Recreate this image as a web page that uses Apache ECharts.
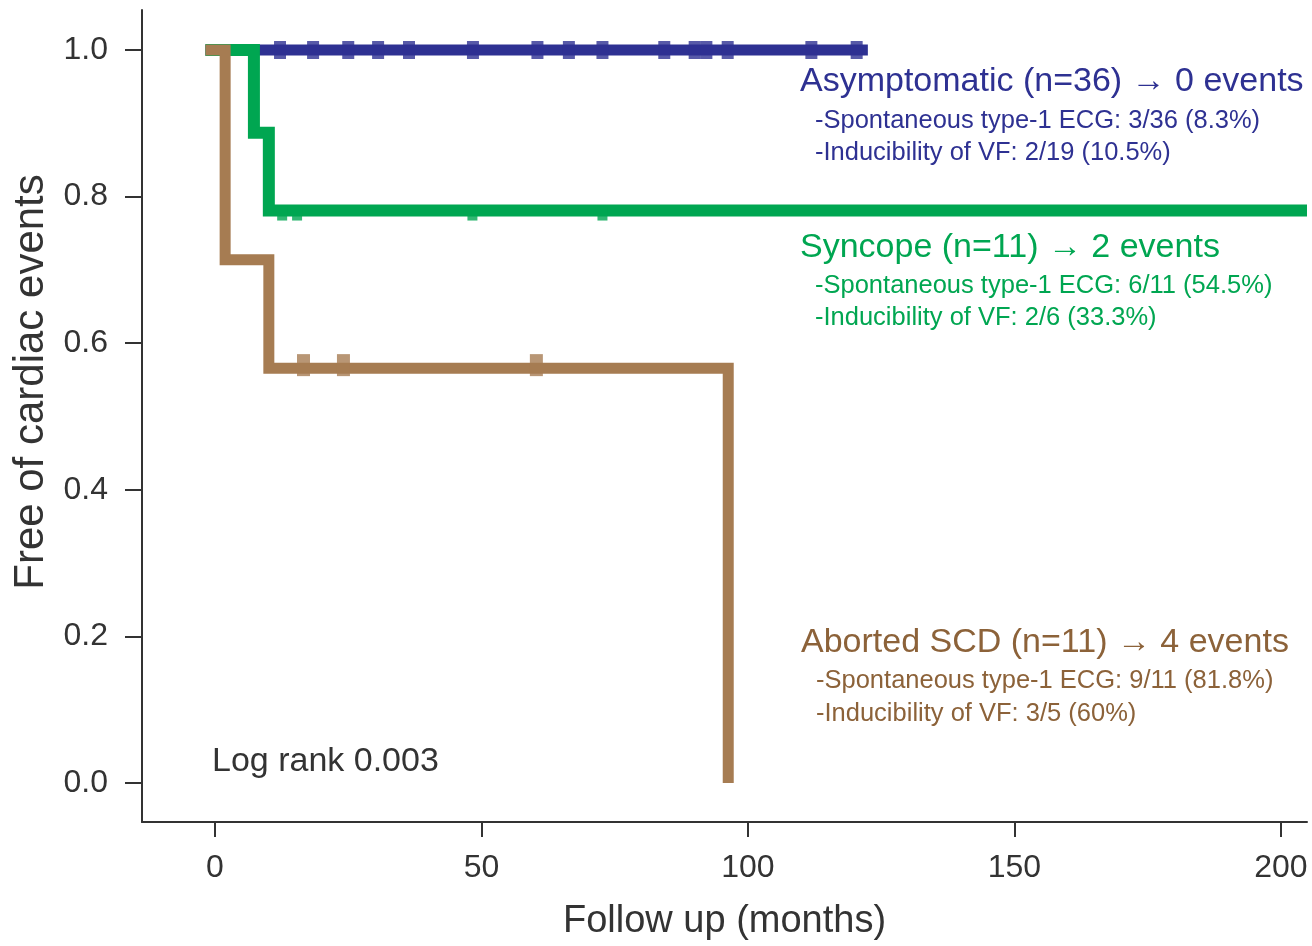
<!DOCTYPE html>
<html>
<head>
<meta charset="utf-8">
<script src="https://cdn.jsdelivr.net/npm/echarts@6/dist/echarts.min.js"></script>
<style>
html,body{margin:0;padding:0;background:#fff;}
#chart{width:1312px;height:946px;}
</style>
</head>
<body>
<div id="chart"></div>
<script>
// ---- data ----
const xTicks = [0, 50, 100, 150, 200];
const yTicks = [0.0, 0.2, 0.4, 0.6, 0.8, 1.0];

// Kaplan-Meier curves: [time (months), survival] at each event (step drawn at the end)
const asymptomaticCurve = [[-1.8, 1.0], [122.5, 1.0]];
const syncopeCurve = [[-1.8, 1.0], [7.3, 0.887], [10.1, 0.781], [204.9, 0.781]];
const abortedCurve = [[-1.8, 1.0], [1.9, 0.714], [10.1, 0.566], [96.3, 0.0]];

// censored observations (months) and the survival level they sit on
const asymptomaticCensor = [12.2, 18.4, 25.0, 30.6, 36.4, 48.4, 60.5, 66.4, 72.7, 84.3, 90.0, 92.2, 96.2, 111.9, 120.4];
const asymptomaticCensorLevel = 1.0;
const syncopeCensor = [12.6, 15.4, 48.3, 72.7];
const syncopeCensorLevel = 0.781;
const abortedCensor = [16.6, 24.1, 60.3];
const abortedCensorLevel = 0.566;

const groupTitles = ['Asymptomatic (n=36) \u2192 0 events', 'Syncope (n=11) \u2192 2 events', 'Aborted SCD (n=11) \u2192 4 events'];
const groupLine1 = ['-Spontaneous type-1 ECG: 3/36 (8.3%)', '-Spontaneous type-1 ECG: 6/11 (54.5%)', '-Spontaneous type-1 ECG: 9/11 (81.8%)'];
const groupLine2 = ['-Inducibility of VF: 2/19 (10.5%)', '-Inducibility of VF: 2/6 (33.3%)', '-Inducibility of VF: 3/5 (60%)'];
const logRankText = 'Log rank 0.003';

// ---- styling ----
const FONT = '"Liberation Sans", Arial, Helvetica, sans-serif';
const BLUE = '#2e3192', GREEN = '#00a651', BROWN = '#a67c52';
const TEXT_COLORS = ['#2e3192', '#00a651', '#8c6239'];
const AX = '#333333';

function censorPoints(times, level) { return times.map(t => [t, level]); }

const chart = echarts.init(document.getElementById('chart'), null, {renderer: 'canvas'});

const textBlocks = [];
const blockPos = [
  {x: 800, y: 82, y1: 121, y2: 153},
  {x: 800, y: 248, y1: 286, y2: 318},
  {x: 801, y: 643, y1: 681, y2: 714}
];
for (let i = 0; i < 3; i++) {
  const p = blockPos[i];
  textBlocks.push({type: 'text', x: p.x, y: p.y, style: {text: groupTitles[i], fill: TEXT_COLORS[i], font: '34px ' + FONT, textVerticalAlign: 'middle'}});
  textBlocks.push({type: 'text', x: p.x + 15, y: p.y1, style: {text: groupLine1[i], fill: TEXT_COLORS[i], font: '25.5px ' + FONT, textVerticalAlign: 'middle'}});
  textBlocks.push({type: 'text', x: p.x + 15, y: p.y2, style: {text: groupLine2[i], fill: TEXT_COLORS[i], font: '25.5px ' + FONT, textVerticalAlign: 'middle'}});
}
textBlocks.push({type: 'text', x: 212, y: 762, style: {text: logRankText, fill: AX, font: '34px ' + FONT, textVerticalAlign: 'middle'}});

const lineCommon = {type: 'line', step: 'end', showSymbol: false, symbol: 'none', animation: false, silent: true};

const option = {
  animation: false,
  backgroundColor: '#ffffff',
  grid: {left: 142, right: 5, top: 10, bottom: 124, containLabel: false},
  xAxis: {
    type: 'value', min: -13.7, max: 204.9,
    name: 'Follow up (months)', nameLocation: 'middle', nameGap: 81,
    nameTextStyle: {fontFamily: FONT, fontSize: 38, color: AX},
    axisLine: {show: true, onZero: false, lineStyle: {color: AX, width: 2}},
    axisTick: {show: true, length: 15, lineStyle: {color: AX, width: 2}, customValues: xTicks},
    axisLabel: {fontFamily: FONT, fontSize: 32, color: AX, margin: 30, customValues: xTicks, formatter: v => String(v)},
    splitLine: {show: false}
  },
  yAxis: {
    type: 'value', min: -0.0532, max: 1.0546,
    name: 'Free of cardiac events', nameLocation: 'middle', nameGap: 89, nameRotate: 90,
    nameTextStyle: {fontFamily: FONT, fontSize: 42, color: AX, padding: [0, 0, 0, 68]},
    axisLine: {show: true, onZero: false, lineStyle: {color: AX, width: 2}},
    axisTick: {show: true, length: 17, lineStyle: {color: AX, width: 2}, customValues: yTicks},
    axisLabel: {fontFamily: FONT, fontSize: 32, color: AX, margin: 34, customValues: yTicks, formatter: v => Number(v).toFixed(1)},
    splitLine: {show: false}
  },
  series: [
    Object.assign({}, lineCommon, {name: 'Asymptomatic', data: asymptomaticCurve, z: 2,
      lineStyle: {color: BLUE, width: 11, cap: 'butt', join: 'miter'}}),
    {type: 'scatter', name: 'Asymptomatic censored', data: censorPoints(asymptomaticCensor, asymptomaticCensorLevel), z: 2,
      symbol: 'rect', symbolSize: [12, 18], itemStyle: {color: BLUE}, silent: true},
    Object.assign({}, lineCommon, {name: 'Syncope', data: syncopeCurve, z: 3,
      lineStyle: {color: GREEN, width: 12, cap: 'butt', join: 'miter'}}),
    {type: 'scatter', name: 'Syncope censored', data: censorPoints(syncopeCensor, syncopeCensorLevel), z: 3,
      symbol: 'rect', symbolSize: [10, 14], symbolOffset: [0, 3], itemStyle: {color: GREEN}, silent: true},
    Object.assign({}, lineCommon, {name: 'Aborted SCD', data: abortedCurve, z: 4,
      lineStyle: {color: BROWN, width: 11, cap: 'butt', join: 'miter'}}),
    {type: 'scatter', name: 'Aborted SCD censored', data: censorPoints(abortedCensor, abortedCensorLevel), z: 4,
      symbol: 'rect', symbolSize: [13, 22], symbolOffset: [0, -3], itemStyle: {color: BROWN}, silent: true}
  ],
  graphic: textBlocks
};
chart.setOption(option);
</script>
</body>
</html>
